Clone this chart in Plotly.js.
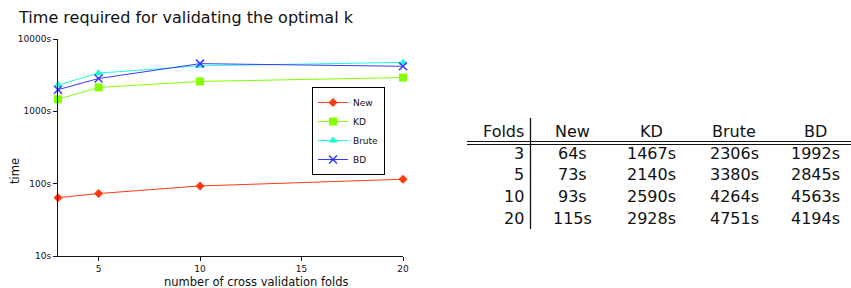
<!DOCTYPE html>
<html>
<head>
<meta charset="utf-8">
<script src="https://cdn.plot.ly/plotly-3.0.1.min.js"></script>
<style>html,body{margin:0;padding:0;background:#fff;}#chart{width:851px;height:288px;}</style>
</head>
<body>
<div id="chart"></div>
<script>
// ---- data ----
var folds = [3, 5, 10, 20];
var seriesNames = ['New', 'KD', 'Brute', 'BD'];
var timeNew = [64, 73, 93, 115];
var timeKD = [1467, 2140, 2590, 2928];
var timeBrute = [2306, 3380, 4264, 4751];
var timeBD = [1992, 2845, 4563, 4194];
var yTickVals = [10, 100, 1000, 10000];
var yTickText = ['10s', '100s', '1000s', '10000s'];
var xTickVals = [5, 10, 15, 20];
var tableHeader = ['Folds', 'New', 'KD', 'Brute', 'BD'];

// ---- styles ----
var FONT = 'DejaVu Sans, Liberation Sans, sans-serif';
var colors = ['#ff3a10', '#80ff00', '#1affd5', '#3838ff'];
var symbols = ['diamond', 'square', 'triangle-up', 'x-thin-open'];
var msizes = [7, 8, 8, 8];

var W = 851, H = 288, ML = 58, MR = 0, MT = 39, MB = 32;
var PW = W - ML - MR, PH = H - MT - MB;
function px(x) { return (x - ML) / PW; }
function py(y) { return (H - MB - y) / PH; }

var series = [timeNew, timeKD, timeBrute, timeBD];
var traces = series.map(function (vals, i) {
  return {
    type: 'scatter', mode: 'lines+markers',
    x: folds, y: vals, name: seriesNames[i],
    line: {color: colors[i], width: 1},
    marker: {symbol: symbols[i], size: msizes[i], color: colors[i],
             line: {color: colors[i], width: i === 3 ? 1.5 : 0}},
    cliponaxis: false
  };
});

var annotations = [];
var shapes = [];

// axis titles
annotations.push({xref: 'paper', yref: 'paper', x: px(256), y: py(282), text: 'number of cross validation folds',
  showarrow: false, xanchor: 'center', yanchor: 'middle', font: {family: FONT, size: 11.5, color: '#111'}});
annotations.push({xref: 'paper', yref: 'paper', x: px(15), y: py(171), text: 'time', textangle: -90,
  showarrow: false, xanchor: 'center', yanchor: 'middle', font: {family: FONT, size: 11.5, color: '#111'}});

// table
var colX = [526, 572, 651, 734, 815];
var headerY = 131, rowY0 = 153, rowStep = 21.7;
var tfont = {family: FONT, size: 16, color: '#111'};
tableHeader.forEach(function (h, c) {
  annotations.push({xref: 'paper', yref: 'paper', x: px(colX[c]), y: py(headerY), text: h, showarrow: false,
    xanchor: c === 0 ? 'right' : 'center', yanchor: 'middle', font: tfont});
});
folds.forEach(function (f, r) {
  var yy = py(rowY0 + r * rowStep);
  annotations.push({xref: 'paper', yref: 'paper', x: px(colX[0]), y: yy, text: String(f), showarrow: false,
    xanchor: 'right', yanchor: 'middle', font: tfont});
  series.forEach(function (vals, c) {
    annotations.push({xref: 'paper', yref: 'paper', x: px(colX[c + 1]), y: yy, text: vals[r] + 's', showarrow: false,
      xanchor: 'center', yanchor: 'middle', font: tfont});
  });
});
shapes.push({type: 'line', xref: 'paper', yref: 'paper', x0: px(530.5), x1: px(530.5), y0: py(118), y1: py(229),
  line: {color: '#111', width: 1.3}});
shapes.push({type: 'line', xref: 'paper', yref: 'paper', x0: px(467), x1: px(851), y0: py(141.5), y1: py(141.5),
  line: {color: '#111', width: 1.1}});
shapes.push({type: 'line', xref: 'paper', yref: 'paper', x0: px(467), x1: px(851), y0: py(144.5), y1: py(144.5),
  line: {color: '#111', width: 1.1}});

var layout = {
  width: W, height: H,
  margin: {l: ML, r: MR, t: MT, b: MB, pad: 0},
  paper_bgcolor: '#fff', plot_bgcolor: 'rgba(0,0,0,0)',
  font: {family: FONT, color: '#111'},
  title: {text: 'Time required for validating the optimal k', x: 186 / W, xanchor: 'center',
          y: 1 - 17 / H, yanchor: 'middle', font: {family: FONT, size: 16, color: '#111'}},
  showlegend: true,
  legend: {x: px(312), y: py(131), xanchor: 'left', yanchor: 'middle', bgcolor: '#fff',
           bordercolor: '#000', borderwidth: 1, font: {family: FONT, size: 9, color: '#111'},
           tracegroupgap: 0},
  xaxis: {domain: [0, (403 - ML) / PW], range: [3, 20], tickvals: xTickVals, ticks: 'outside', ticklen: 4,
          tickcolor: '#111', showline: true, linecolor: '#111', linewidth: 1, showgrid: false, zeroline: false,
          tickfont: {family: FONT, size: 9, color: '#111'}},
  yaxis: {type: 'log', range: [1, 4], tickvals: yTickVals, ticktext: yTickText, ticks: 'outside', ticklen: 4,
          tickcolor: '#111', showline: true, linecolor: '#111', linewidth: 1, showgrid: false, zeroline: false,
          tickfont: {family: FONT, size: 9, color: '#111'}},
  annotations: annotations,
  shapes: shapes
};

Plotly.newPlot('chart', traces, layout, {displayModeBar: false, staticPlot: true});
</script>
</body>
</html>
